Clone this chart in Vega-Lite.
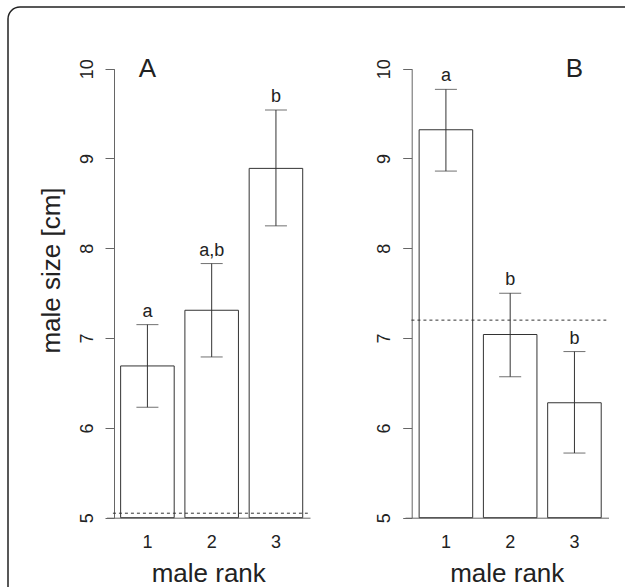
{
  "$schema": "https://vega.github.io/schema/vega-lite/v6.json",
  "width": 645,
  "height": 600,
  "autosize": {"type": "none"},
  "padding": {"left": 8, "top": 7, "right": 0, "bottom": 0},
  "background": "white",
  "config": {
    "font": "Liberation Sans",
    "view": {"stroke": "#222", "strokeWidth": 1.5, "cornerRadius": 12, "fill": "white"},
    "axis": {"grid": false, "labelFont": "Liberation Sans", "titleFont": "Liberation Sans", "labelColor": "#222", "titleColor": "#222", "titleFontWeight": "normal", "labelFontSize": 18, "titleFontSize": 26, "domainColor": "#666", "tickColor": "#666"}
  },
  "datasets": {
    "bars": [
      {"panel": "A", "rank": "1", "mean": 6.69, "lo": 6.23, "hi": 7.15, "letter": "a"},
      {"panel": "A", "rank": "2", "mean": 7.31, "lo": 6.79, "hi": 7.83, "letter": "a,b"},
      {"panel": "A", "rank": "3", "mean": 8.89, "lo": 8.25, "hi": 9.54, "letter": "b"},
      {"panel": "B", "rank": "1", "mean": 9.32, "lo": 8.86, "hi": 9.77, "letter": "a"},
      {"panel": "B", "rank": "2", "mean": 7.04, "lo": 6.57, "hi": 7.50, "letter": "b"},
      {"panel": "B", "rank": "3", "mean": 6.28, "lo": 5.72, "hi": 6.85, "letter": "b"}
    ],
    "refs": [
      {"panel": "A", "ref": 5.05},
      {"panel": "B", "ref": 7.2}
    ]
  },
  "layer": [
    {
      "data": {"name": "bars"},
      "transform": [{"filter": "datum.panel === 'A'"}],
      "mark": {"type": "bar", "fill": "white", "stroke": "#333", "strokeWidth": 1},
      "encoding": {
        "x": {"field": "rank", "type": "ordinal",
          "scale": {"type": "band", "domain": ["1", "2", "3"], "range": [98.5, 302], "paddingInner": 0.1667, "paddingOuter": 0.1667, "align": 0.66},
          "axis": {"orient": "bottom", "offset": -89.3, "title": "male rank", "labelAngle": 0, "ticks": false, "tickSize": 0, "labelPadding": 16, "titleY": 64, "titleBaseline": "alphabetic"}},
        "y": {"field": "mean", "type": "quantitative",
          "scale": {"domain": [5, 10], "range": [510.7, 61.7], "nice": false, "zero": false},
          "axis": {"orient": "left", "offset": -106, "values": [5, 6, 7, 8, 9, 10], "format": "d", "tickSize": 9, "labelAngle": -90, "labelAlign": "center", "labelBaseline": "alphabetic", "labelPadding": 13, "title": "male size [cm]", "titleAngle": -90, "titleX": -63, "titleY": 263, "titleAlign": "center", "titleBaseline": "middle"}},
        "y2": {"datum": 5}
      }
    },
    {
      "data": {"name": "bars"},
      "transform": [{"filter": "datum.panel === 'A'"}],
      "mark": {"type": "rule", "stroke": "#333", "strokeWidth": 1},
      "encoding": {
        "x": {"field": "rank", "type": "ordinal", "axis": null, "scale": {"type": "band", "domain": ["1", "2", "3"], "range": [98.5, 302], "paddingInner": 0.1667, "paddingOuter": 0.1667, "align": 0.66}},
        "y": {"field": "lo", "type": "quantitative", "axis": null, "scale": {"domain": [5, 10], "range": [510.7, 61.7], "nice": false, "zero": false}},
        "y2": {"field": "hi"}
      }
    },
    {
      "data": {"name": "bars"},
      "transform": [{"filter": "datum.panel === 'A'"}, {"fold": ["lo", "hi"], "as": ["end", "val"]}],
      "mark": {"type": "tick", "color": "#333", "size": 22, "thickness": 1},
      "encoding": {
        "x": {"field": "rank", "type": "ordinal", "axis": null, "scale": {"type": "band", "domain": ["1", "2", "3"], "range": [98.5, 302], "paddingInner": 0.1667, "paddingOuter": 0.1667, "align": 0.66}},
        "y": {"field": "val", "type": "quantitative", "axis": null, "scale": {"domain": [5, 10], "range": [510.7, 61.7], "nice": false, "zero": false}}
      }
    },
    {
      "data": {"name": "bars"},
      "transform": [{"filter": "datum.panel === 'A'"}],
      "mark": {"type": "text", "fontSize": 18, "color": "#222", "baseline": "alphabetic", "dy": -8},
      "encoding": {
        "x": {"field": "rank", "type": "ordinal", "axis": null, "scale": {"type": "band", "domain": ["1", "2", "3"], "range": [98.5, 302], "paddingInner": 0.1667, "paddingOuter": 0.1667, "align": 0.66}},
        "y": {"field": "hi", "type": "quantitative", "axis": null, "scale": {"domain": [5, 10], "range": [510.7, 61.7], "nice": false, "zero": false}},
        "text": {"field": "letter"}
      }
    },
    {
      "data": {"name": "refs"},
      "transform": [{"filter": "datum.panel === 'A'"}],
      "mark": {"type": "rule", "stroke": "#333", "strokeWidth": 1, "strokeDash": [3, 3]},
      "encoding": {
        "x": {"datum": "1", "bandPosition": -0.144, "type": "ordinal", "axis": null, "scale": {"type": "band", "domain": ["1", "2", "3"], "range": [98.5, 302], "paddingInner": 0.1667, "paddingOuter": 0.1667, "align": 0.66}},
        "x2": {"datum": "3", "bandPosition": 1.095},
        "y": {"field": "ref", "type": "quantitative", "axis": null, "scale": {"domain": [5, 10], "range": [510.7, 61.7], "nice": false, "zero": false}}
      }
    },
    {
      "data": {"values": [{"label": "A"}]},
      "mark": {"type": "text", "fontSize": 26, "color": "#222", "baseline": "middle"},
      "encoding": {
        "x": {"datum": "1", "type": "ordinal", "axis": null, "scale": {"type": "band", "domain": ["1", "2", "3"], "range": [98.5, 302], "paddingInner": 0.1667, "paddingOuter": 0.1667, "align": 0.66}},
        "y": {"datum": 10, "type": "quantitative", "axis": null, "scale": {"domain": [5, 10], "range": [510.7, 61.7], "nice": false, "zero": false}},
        "text": {"field": "label"}
      }
    },
    {
      "data": {"name": "bars"},
      "transform": [{"filter": "datum.panel === 'B'"}],
      "mark": {"type": "bar", "fill": "white", "stroke": "#333", "strokeWidth": 1},
      "encoding": {
        "x": {"field": "rank", "type": "ordinal",
          "scale": {"type": "band", "domain": ["1", "2", "3"], "range": [397, 600.5], "paddingInner": 0.1667, "paddingOuter": 0.1667, "align": 0.66},
          "axis": {"orient": "bottom", "offset": -89.3, "title": "male rank", "labelAngle": 0, "ticks": false, "tickSize": 0, "labelPadding": 16, "titleY": 64, "titleBaseline": "alphabetic"}},
        "y": {"field": "mean", "type": "quantitative",
          "scale": {"domain": [5, 10], "range": [510.7, 61.7], "nice": false, "zero": false},
          "axis": {"orient": "left", "offset": -403.7, "values": [5, 6, 7, 8, 9, 10], "format": "d", "tickSize": 9, "labelAngle": -90, "labelAlign": "center", "labelBaseline": "alphabetic", "labelPadding": 13, "title": null}},
        "y2": {"datum": 5}
      }
    },
    {
      "data": {"name": "bars"},
      "transform": [{"filter": "datum.panel === 'B'"}],
      "mark": {"type": "rule", "stroke": "#333", "strokeWidth": 1},
      "encoding": {
        "x": {"field": "rank", "type": "ordinal", "axis": null, "scale": {"type": "band", "domain": ["1", "2", "3"], "range": [397, 600.5], "paddingInner": 0.1667, "paddingOuter": 0.1667, "align": 0.66}},
        "y": {"field": "lo", "type": "quantitative", "axis": null, "scale": {"domain": [5, 10], "range": [510.7, 61.7], "nice": false, "zero": false}},
        "y2": {"field": "hi"}
      }
    },
    {
      "data": {"name": "bars"},
      "transform": [{"filter": "datum.panel === 'B'"}, {"fold": ["lo", "hi"], "as": ["end", "val"]}],
      "mark": {"type": "tick", "color": "#333", "size": 22, "thickness": 1},
      "encoding": {
        "x": {"field": "rank", "type": "ordinal", "axis": null, "scale": {"type": "band", "domain": ["1", "2", "3"], "range": [397, 600.5], "paddingInner": 0.1667, "paddingOuter": 0.1667, "align": 0.66}},
        "y": {"field": "val", "type": "quantitative", "axis": null, "scale": {"domain": [5, 10], "range": [510.7, 61.7], "nice": false, "zero": false}}
      }
    },
    {
      "data": {"name": "bars"},
      "transform": [{"filter": "datum.panel === 'B'"}],
      "mark": {"type": "text", "fontSize": 18, "color": "#222", "baseline": "alphabetic", "dy": -8},
      "encoding": {
        "x": {"field": "rank", "type": "ordinal", "axis": null, "scale": {"type": "band", "domain": ["1", "2", "3"], "range": [397, 600.5], "paddingInner": 0.1667, "paddingOuter": 0.1667, "align": 0.66}},
        "y": {"field": "hi", "type": "quantitative", "axis": null, "scale": {"domain": [5, 10], "range": [510.7, 61.7], "nice": false, "zero": false}},
        "text": {"field": "letter"}
      }
    },
    {
      "data": {"name": "refs"},
      "transform": [{"filter": "datum.panel === 'B'"}],
      "mark": {"type": "rule", "stroke": "#333", "strokeWidth": 1, "strokeDash": [3, 3]},
      "encoding": {
        "x": {"datum": "1", "bandPosition": -0.144, "type": "ordinal", "axis": null, "scale": {"type": "band", "domain": ["1", "2", "3"], "range": [397, 600.5], "paddingInner": 0.1667, "paddingOuter": 0.1667, "align": 0.66}},
        "x2": {"datum": "3", "bandPosition": 1.095},
        "y": {"field": "ref", "type": "quantitative", "axis": null, "scale": {"domain": [5, 10], "range": [510.7, 61.7], "nice": false, "zero": false}}
      }
    },
    {
      "data": {"values": [{"label": "B"}]},
      "mark": {"type": "text", "fontSize": 26, "color": "#222", "baseline": "middle"},
      "encoding": {
        "x": {"datum": "3", "type": "ordinal", "axis": null, "scale": {"type": "band", "domain": ["1", "2", "3"], "range": [397, 600.5], "paddingInner": 0.1667, "paddingOuter": 0.1667, "align": 0.66}},
        "y": {"datum": 10, "type": "quantitative", "axis": null, "scale": {"domain": [5, 10], "range": [510.7, 61.7], "nice": false, "zero": false}},
        "text": {"field": "label"}
      }
    }
  ],
  "resolve": {
    "scale": {"x": "independent", "y": "independent"},
    "axis": {"x": "independent", "y": "independent"}
  }
}
